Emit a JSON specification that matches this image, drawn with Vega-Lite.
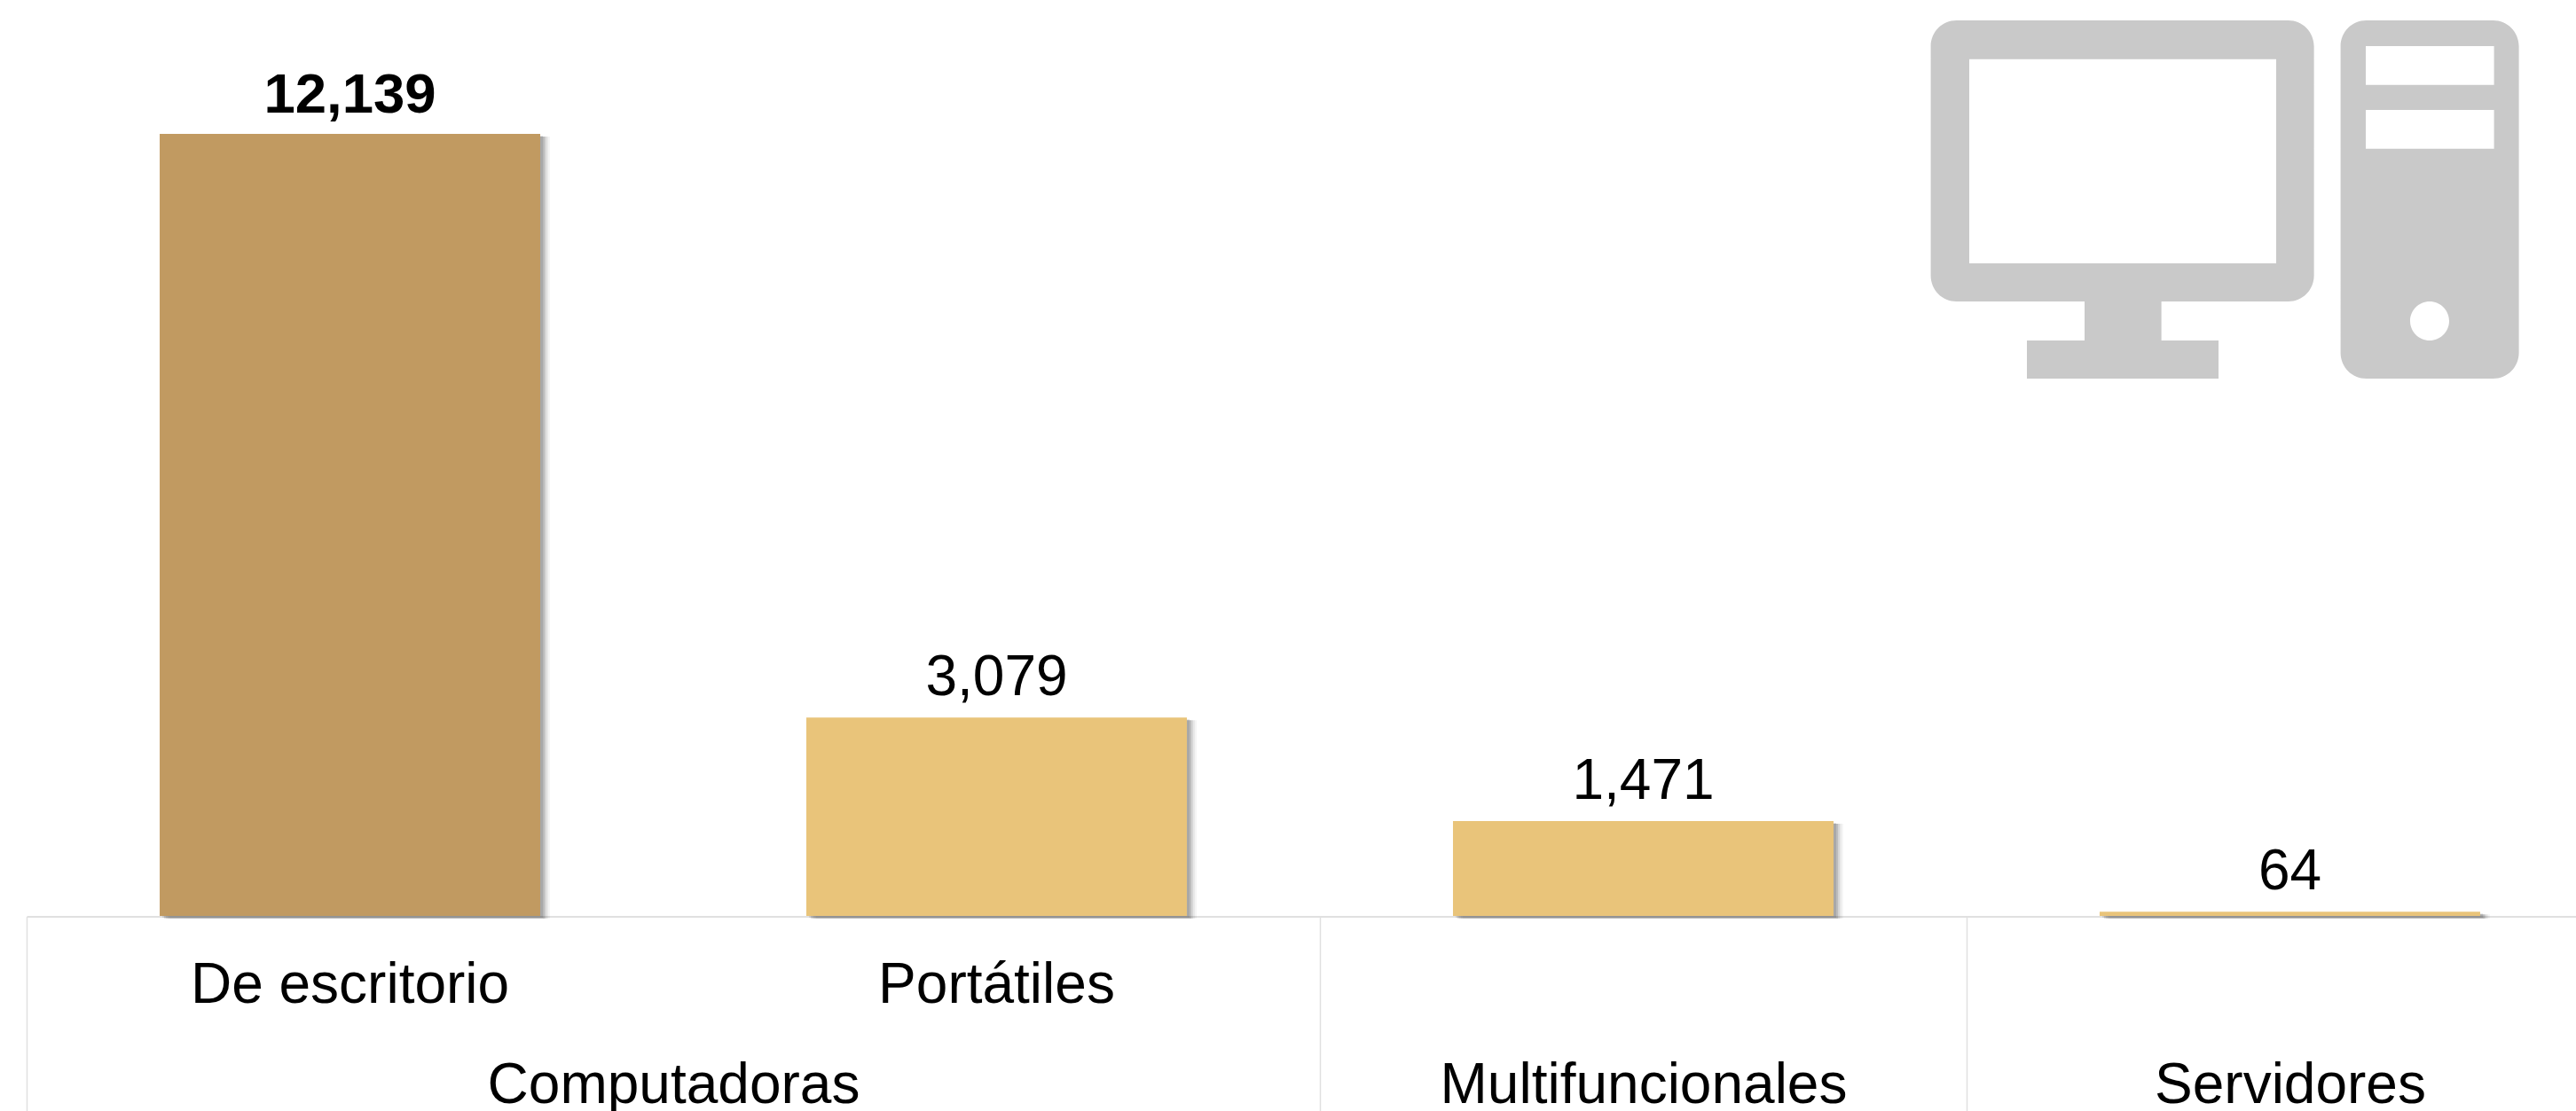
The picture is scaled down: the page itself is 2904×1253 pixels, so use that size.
{
  "$schema": "https://vega.github.io/schema/vega-lite/v6.json",
  "width": 2874,
  "height": 1033,
  "autosize": {"type": "none"},
  "padding": {"left": 30, "top": 0, "right": 0, "bottom": 220},
  "background": "white",
  "config": {"view": {"stroke": null}, "font": "Liberation Sans"},
  "datasets": {
    "equipos": [
      {"tipo": "De escritorio", "cantidad": 12139, "destacado": "si"},
      {"tipo": "Portátiles", "cantidad": 3079, "destacado": "no"},
      {"tipo": "Multifuncionales", "cantidad": 1471, "destacado": "no"},
      {"tipo": "Servidores", "cantidad": 64, "destacado": "no"}
    ],
    "icono": [{"posicion": 3.4, "nivel": 11120}]
  },
  "resolve": {"scale": {"x": "independent"}, "axis": {"x": "independent"}},
  "layer": [
    {
      "data": {"name": "icono"},
      "mark": {
        "type": "point",
        "filled": true,
        "opacity": 1,
        "size": 4,
        "color": "#c9c9c9",
        "shape": "M-303 -202H71A29 29 0 0 1 100 -173V86A29 29 0 0 1 71 115H-72V159H-7.6V202H-223.6V159H-158.6V115H-303A29 29 0 0 1 -332 86V-173A29 29 0 0 1 -303 -202ZM-288.6 -158.3V72H57.4V-158.3ZM159 -202H302A29 29 0 0 1 331 -173V173A29 29 0 0 1 302 202H159A29 29 0 0 1 130 173V-173A29 29 0 0 1 159 -202ZM158.4 -173V-129.4H303V-173ZM158.4 -101V-57.3H303V-101ZM208.4 137A22 22 0 0 0 252.4 137A22 22 0 0 0 208.4 137Z"
      },
      "encoding": {
        "x": {
          "field": "posicion",
          "type": "quantitative",
          "title": null,
          "scale": {"domain": [0, 4], "range": [0, 2916], "nice": false, "zero": false},
          "axis": {
            "orient": "bottom",
            "offset": 0.5,
            "values": [0, 1, 2, 2.5, 3, 3.5],
            "grid": false,
            "domain": true,
            "domainColor": "#e0e0e0",
            "domainWidth": 2,
            "ticks": true,
            "tickSize": 220,
            "tickWidth": 1.5,
            "tickColor": "#e0e0e0",
            "tickOpacity": {"condition": {"test": "datum.value === 0 || datum.value === 2 || datum.value === 3", "value": 1}, "value": 0},
            "labels": true,
            "labelFont": "Liberation Sans",
            "labelFontSize": 64,
            "labelColor": "#000000",
            "labelAngle": 0,
            "labelAlign": "center",
            "labelBaseline": "alphabetic",
            "labelPadding": -10.5,
            "labelLimit": 1500,
            "labelOverlap": false,
            "labelFlush": false,
            "labelBound": false,
            "labelExpr": "datum.value === 1 ? 'Computadoras' : datum.value === 2.5 ? 'Multifuncionales' : datum.value === 3.5 ? 'Servidores' : ''"
          }
        },
        "y": {"field": "nivel", "type": "quantitative", "axis": null, "scale": {"domain": [0, 14217.6], "nice": false}}
      }
    },
    {
      "data": {"name": "equipos"},
      "encoding": {
        "x": {
          "field": "tipo",
          "type": "nominal",
          "sort": null,
          "title": null,
          "scale": {"range": [0, 2916], "paddingInner": 0.4115, "paddingOuter": 0.2058},
          "axis": {
            "orient": "bottom",
            "domain": false,
            "ticks": false,
            "grid": false,
            "labelFont": "Liberation Sans",
            "labelFontSize": 64,
            "labelColor": "#000000",
            "labelAngle": 0,
            "labelBaseline": "alphabetic",
            "labelPadding": 97,
            "labelLimit": 1500,
            "labelOverlap": false,
            "labelBound": false,
            "labelExpr": "datum.label === 'Multifuncionales' || datum.label === 'Servidores' ? '' : datum.label"
          }
        },
        "y": {"field": "cantidad", "type": "quantitative", "axis": null, "scale": {"domain": [0, 14217.6], "nice": false}}
      },
      "layer": [
        {"mark": {"type": "bar", "color": "#000000", "opacity": 0.04, "xOffset": 11, "yOffset": 3}},
        {"mark": {"type": "bar", "color": "#000000", "opacity": 0.05, "xOffset": 9, "yOffset": 3}},
        {"mark": {"type": "bar", "color": "#000000", "opacity": 0.08, "xOffset": 7, "yOffset": 3}},
        {"mark": {"type": "bar", "color": "#000000", "opacity": 0.12, "xOffset": 5, "yOffset": 3}},
        {"mark": {"type": "bar", "color": "#000000", "opacity": 0.1, "xOffset": 3, "yOffset": 2}},
        {
          "mark": {"type": "bar"},
          "encoding": {
            "color": {"field": "destacado", "type": "nominal", "legend": null, "scale": {"domain": ["si", "no"], "range": ["#c19a61", "#e9c47a"]}}
          }
        },
        {
          "transform": [{"filter": "datum.destacado === 'si'"}],
          "mark": {"type": "text", "baseline": "alphabetic", "align": "center", "dy": -24, "fontSize": 63.5, "fontWeight": "bold", "font": "Liberation Sans", "color": "#000000"},
          "encoding": {"text": {"field": "cantidad", "type": "quantitative", "format": ","}}
        },
        {
          "transform": [{"filter": "datum.destacado === 'no'"}],
          "mark": {"type": "text", "baseline": "alphabetic", "align": "center", "dy": -25, "fontSize": 64, "font": "Liberation Sans", "color": "#000000"},
          "encoding": {"text": {"field": "cantidad", "type": "quantitative", "format": ","}}
        }
      ]
    }
  ]
}
